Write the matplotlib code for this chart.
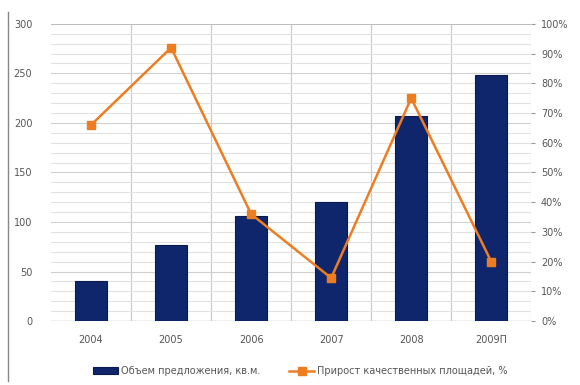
import matplotlib.pyplot as plt
from matplotlib.lines import Line2D

years = ['2004', '2005', '2006', '2007', '2008', '2009П']
volume = [40, 77, 106, 120, 207, 248]
growth = [66, 92, 36, 14.5, 75, 20]

bar_color = '#10266c'
line_color = '#ee7d22'

fig = plt.figure(figsize=(5.8, 3.85), dpi=100)
ax = fig.add_axes([0.088, 0.166, 0.828, 0.772])
ax2 = ax.twinx()

x = list(range(len(years)))
ax.bar(x, volume, width=0.4, color=bar_color, edgecolor='#0b1a4a', linewidth=0.8,
       label='Объем предложения, кв.м.', zorder=3)
ax2.plot(x, growth, color=line_color, linewidth=1.8, marker='s', markersize=6,
         label='Прирост качественных площадей, %', zorder=4)

ax.set_xlim(-0.5, len(years) - 0.5)
ax.set_ylim(0, 300)
ax.set_yticks(range(0, 301, 50))
ax.set_yticks(range(0, 301, 10), minor=True)
ax2.set_ylim(0, 100)
ax2.set_yticks(range(0, 101, 10))
ax2.set_yticklabels([f'{v}%' for v in range(0, 101, 10)])

ax.set_xticks(x)
ax.set_xticklabels(years)
ax.set_xticks([i + 0.5 for i in x], minor=True)

ax.grid(True, which='minor', axis='y', color='#e2e2e2', linewidth=0.8, zorder=0)
ax.grid(True, which='major', axis='y', color='#d0d0d0', linewidth=0.8, zorder=0)
ax.grid(True, which='minor', axis='x', color='#c8c8c8', linewidth=0.8, zorder=0)
ax.set_axisbelow(True)

for a in (ax, ax2):
    for s in a.spines.values():
        s.set_visible(False)
    a.tick_params(colors='#555555', labelsize=7, length=0, which='both')
ax.tick_params(axis='y', pad=13.5)
ax.tick_params(axis='x', pad=10)
ax2.tick_params(axis='y', length=3, color='#999999', pad=4)
ax.axhline(300, color='#bbbbbb', linewidth=1.2)
ax.axhline(0, color='#bbbbbb', linewidth=1.0)

fig.add_artist(Line2D([0.014, 0.014], [0.01, 0.97], color='#888888', linewidth=1.0))

h1, l1 = ax.get_legend_handles_labels()
h2, l2 = ax2.get_legend_handles_labels()
fig.legend(h1 + h2, l1 + l2, loc='center', bbox_to_anchor=(0.518, 0.036), ncol=2,
           frameon=False, fontsize=7, handlelength=2.6, handletextpad=0.3,
           columnspacing=2.9, labelcolor='#555555')

fig.savefig('out.png')
